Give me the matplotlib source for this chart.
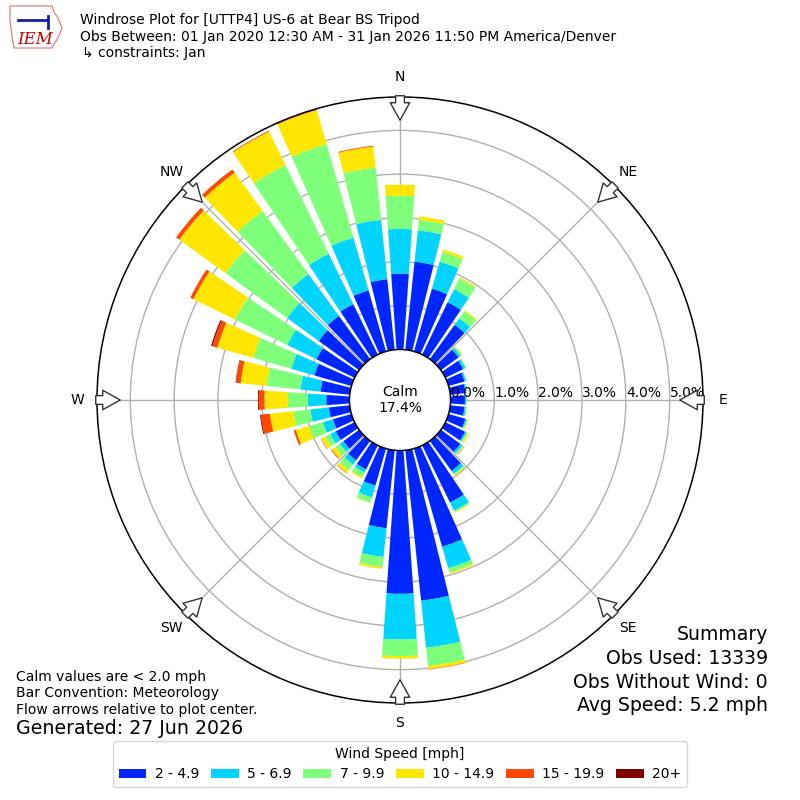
import numpy as np
import matplotlib
matplotlib.use('Agg')
from matplotlib import pyplot as plt
from matplotlib.patches import Patch, Circle, Polygon

# wind directions (deg) and frequency (%) per speed bin
directions = np.arange(0, 360, 10)
speed_bins = ['2 - 4.9', '5 - 6.9', '7 - 9.9', '10 - 14.9', '15 - 19.9', '20+']
bin_colors = ['#0026ff', '#00d4ff', '#7dff7a', '#ffe600', '#ff4800', '#800000']

spd_2_5 = [1.73, 2.02, 1.49, 1.33, 0.97, 0.50, 0.45, 0.38, 0.35, 0.33, 0.33, 0.40,
           0.50, 0.55, 0.85, 1.45, 2.33, 3.45, 3.27, 1.79, 0.88, 0.61, 0.55, 0.45,
           0.48, 0.44, 0.48, 0.53, 0.67, 0.88, 0.97, 1.14, 1.22, 1.28, 1.45, 1.62]
spd_5_7 = [1.02, 0.72, 0.64, 0.33, 0.18, 0.06, 0.06, 0.04, 0.03, 0.03, 0.03, 0.03,
           0.04, 0.06, 0.08, 0.21, 0.51, 1.08, 1.04, 0.66, 0.28, 0.08, 0.12, 0.10,
           0.14, 0.24, 0.42, 0.42, 0.46, 0.55, 0.74, 0.89, 1.18, 1.28, 1.25, 1.36]
spd_7_10 = [0.76, 0.24, 0.23, 0.27, 0.20, 0.03, 0.02, 0.01, 0.005, 0.01, 0.02, 0.02,
            0.02, 0.02, 0.03, 0.03, 0.10, 0.42, 0.38, 0.23, 0.12, 0.12, 0.16, 0.12,
            0.13, 0.32, 0.39, 0.46, 0.78, 0.90, 1.32, 1.74, 1.78, 2.25, 2.22, 1.20]
spd_10_15 = [0.25, 0.08, 0.06, 0.03, 0.03, 0.02, 0.01, 0.0, 0.0, 0.0, 0.01, 0.02,
             0.04, 0.02, 0.03, 0.02, 0.03, 0.07, 0.06, 0.04, 0.01, 0.03, 0.08, 0.10,
             0.10, 0.32, 0.54, 0.53, 0.59, 0.85, 1.06, 1.30, 1.08, 0.85, 0.81, 0.48]
spd_15_20 = [0.0, 0.0, 0.0, 0.0, 0.0, 0.0, 0.0, 0.0, 0.0, 0.0, 0.0, 0.0,
             0.0, 0.01, 0.0, 0.0, 0.0, 0.01, 0.0, 0.0, 0.0, 0.0, 0.01, 0.02,
             0.01, 0.05, 0.21, 0.13, 0.11, 0.12, 0.08, 0.09, 0.09, 0.02, 0.03, 0.02]
spd_20_up = [0.0, 0.0, 0.0, 0.0, 0.0, 0.0, 0.0, 0.0, 0.0, 0.0, 0.0, 0.0,
             0.0, 0.0, 0.0, 0.0, 0.0, 0.0, 0.0, 0.0, 0.0, 0.0, 0.0, 0.0,
             0.0, 0.0, 0.02, 0.02, 0.01, 0.03, 0.0, 0.0, 0.0, 0.0, 0.0, 0.0]

calm_pct = 17.4
rticks = [0, 1, 2, 3, 4, 5]
compass = ['N', 'NE', 'E', 'SE', 'S', 'SW', 'W', 'NW']

fig = plt.figure(figsize=(8, 8), dpi=100)
ax = fig.add_axes([97 / 800, 97 / 800, 606 / 800, 606 / 800], projection='polar')
ax.set_theta_zero_location('N')
ax.set_theta_direction(-1)

series = [spd_2_5, spd_5_7, spd_7_10, spd_10_15, spd_15_20, spd_20_up]
theta = np.deg2rad(directions)
bottom = np.zeros(len(directions))
for vals, color in zip(series, bin_colors):
    vals = np.array(vals)
    ax.bar(theta, vals, width=np.deg2rad(8), bottom=bottom, color=color, zorder=2)
    bottom += vals

rmax = bottom.max()
ax.set_ylim(0, rmax)
ax.set_rorigin(-0.2 * rmax)

ax.set_xticks(np.deg2rad(np.arange(0, 360, 45)))
ax.set_xticklabels([])
ax.set_yticks(rticks)
ax.set_yticklabels([])
ax.grid(True, color='#b0b0b0', linewidth=1)
ax.spines['polar'].set_linewidth(1.1)

# calm hole in the middle
hole = 0.2 / 1.2 / 2
ax.add_patch(Circle((0.5, 0.5), hole, transform=ax.transAxes, facecolor='white',
                    edgecolor='black', linewidth=1, zorder=5, clip_on=False))
ax.text(0.5, 0.5, f'Calm\n{calm_pct:.1f}%', transform=ax.transAxes, ha='center', va='center',
        fontsize=10, zorder=6)

for r in rticks:
    ax.text(np.pi / 2, r, f'{r:.1f}%', ha='left', va='bottom', fontsize=10, zorder=7)

# compass labels and flow arrows
for i, lab in enumerate(compass):
    ang = np.deg2rad(i * 45)
    ax.text(ang, rmax * 1.079, lab, ha='center', va='center', fontsize=10)
    ax.annotate('', xy=(ang, rmax * 0.897), xytext=(ang, rmax * 1.016), annotation_clip=False,
                arrowprops=dict(arrowstyle='simple,head_length=0.9,head_width=1.0,tail_width=0.45',
                                mutation_scale=14, fc='white', ec='#333333', lw=1), zorder=8)

# header
fig.text(80 / 800, 1 - 20 / 800, 'Windrose Plot for [UTTP4] US-6 at Bear BS Tripod', fontsize=10, va='center')
fig.text(80 / 800, 1 - 37 / 800, 'Obs Between: 01 Jan 2020 12:30 AM - 31 Jan 2026 11:50 PM America/Denver',
         fontsize=10, va='center')
fig.text(82 / 800, 1 - 53 / 800, '↳ constraints: Jan', fontsize=10, va='center')

# rough IEM logo
lax = fig.add_axes([8 / 800, 1 - 50 / 800, 56 / 800, 46 / 800])
lax.set_xlim(0, 56)
lax.set_ylim(0, 46)
lax.axis('off')
lax.add_patch(Polygon([[2, 44], [44, 44], [46, 38], [50, 32], [54, 22], [50, 12], [46, 6],
                       [44, 2], [6, 2], [4, 14], [2, 30]], closed=True, fill=False,
                      edgecolor='#e07070', linewidth=0.8))
lax.plot([10, 38], [30, 30], color='#1a1aa0', linewidth=2)
lax.plot([40, 40], [22, 34], color='#1a1aa0', linewidth=2)
lax.text(27, 10, 'IEM', color='#cc0000', fontsize=12, fontstyle='italic', family='serif',
         ha='center', va='center')

# footer notes
fig.text(16 / 800, 1 - 677 / 800, 'Calm values are < 2.0 mph', fontsize=10, va='center')
fig.text(16 / 800, 1 - 693 / 800, 'Bar Convention: Meteorology', fontsize=10, va='center')
fig.text(16 / 800, 1 - 710 / 800, 'Flow arrows relative to plot center.', fontsize=10, va='center')
fig.text(16 / 800, 1 - 729 / 800, 'Generated: 27 Jun 2026', fontsize=13.7, va='center')

summary = ['Summary', 'Obs Used: 13339', 'Obs Without Wind: 0', 'Avg Speed: 5.2 mph']
for k, line in enumerate(summary):
    fig.text(768 / 800, 1 - (635 + 23.5 * k) / 800, line, fontsize=13.6, ha='right', va='center')

handles = [Patch(facecolor=c) for c in bin_colors]
fig.legend(handles, speed_bins, loc='center', bbox_to_anchor=(0.5, 1 - 764 / 800), ncol=6,
           title='Wind Speed [mph]', fontsize=10, title_fontsize=10,
           columnspacing=0.85, handletextpad=0.6)

fig.savefig('out.png', dpi=100)
